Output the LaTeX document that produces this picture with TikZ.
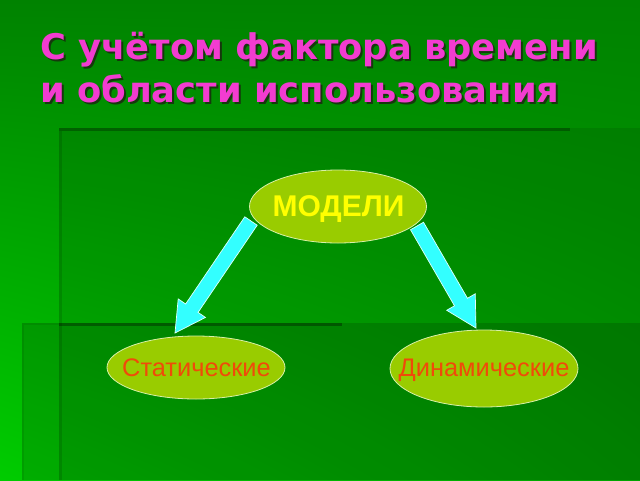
\documentclass[tikz,border=0pt]{standalone}
\usepackage{fontspec}
\setmainfont{Liberation Sans}
\newfontfamily\titlefont{DejaVu Sans}
\usetikzlibrary{calc,shapes.geometric,shadings}
\definecolor{bgtop}{HTML}{008200}
\definecolor{bgbl}{HTML}{00CC00}
\definecolor{bgbr}{HTML}{00A400}
\definecolor{ttlpink}{HTML}{F23CD0}
\definecolor{ttlshadow}{HTML}{1A2A10}
\definecolor{ellfill}{HTML}{99CC00}
\definecolor{ellline}{HTML}{D8F0A8}
\definecolor{arrcyan}{HTML}{33FFFF}
\definecolor{arrline}{HTML}{E0FFFF}
\definecolor{txtred}{HTML}{F04A0A}
\definecolor{modyellow}{HTML}{FFFF00}
\newcommand\blockarrow[2]{%
  \coordinate (#1h) at ($(#2)!30pt!(#1)$);
  \filldraw[arrstyle]
    ($(#1)!7.5pt!90:(#2)$) -- ($(#1h)!7.5pt!90:(#2)$) -- ($(#1h)!16.5pt!90:(#2)$)
    -- (#2) -- ($(#1h)!16.5pt!-90:(#2)$) -- ($(#1h)!7.5pt!-90:(#2)$)
    -- ($(#1)!7.5pt!-90:(#2)$) -- cycle;}
\begin{document}
\begin{tikzpicture}[x=1pt,y=-1pt,
  ttl/.style={font=\titlefont\bfseries\fontsize{35.3}{40}\selectfont, anchor=base west, inner sep=0pt},
  ell/.style={ellipse, fill=ellfill, draw=ellline, line width=0.8pt, inner sep=0pt},
  lowtxt/.style={font=\fontsize{25.4}{28}\selectfont, text=txtred, inner sep=0pt},
  arrstyle/.style={fill=arrcyan, draw=arrline, line width=0.7pt, line join=miter}]
\useasboundingbox (0,0) rectangle (640,480);
% background
\shade[upper left=bgtop, upper right=bgtop, lower left=bgbl, lower right=bgbr] (0,0) rectangle (640,480);
% upper panel
\fill[black,opacity=0.09] (59,128) rectangle (640,480);
\fill[black,opacity=0.28] (59,128) rectangle (570,131);
\fill[black,opacity=0.12] (59,131) rectangle (62,480);
% lower panel
\fill[black,opacity=0.14] (22,323) rectangle (640,480);
\fill[black,opacity=0.08] (22,323) rectangle (59,325);
\fill[black,opacity=0.32] (59,323) rectangle (342,326);
\fill[black,opacity=0.08] (22,325) rectangle (24,480);
% title
\node[ttl, text=ttlshadow, opacity=0.85] (t1s) at (42,61) {С учётом фактора времени};
\node[ttl, text=ttlpink] (t1) at (40,59) {С учётом фактора времени};
\node[ttl, text=ttlshadow, opacity=0.85] (t2s) at (42,104) {и области использования};
\node[ttl, text=ttlpink] (t2) at (40,102) {и области использования};
% arrows
\coordinate (la) at (251,221);
\coordinate (lb) at (175,333);
\coordinate (ra) at (417,226);
\coordinate (rb) at (476,328);
\blockarrow{la}{lb}
\blockarrow{ra}{rb}
% ellipses
\node[ell, minimum width=177pt, minimum height=73pt] (mod) at (338,206.5) {};
\node[text=modyellow, inner sep=0pt, font=\bfseries\fontsize{30}{32}\selectfont] (modl) at (338.5,209) {МОДЕЛИ};
\node[ell, minimum width=178pt, minimum height=63pt] (stat) at (196,367.5) {};
\node[lowtxt] (statl) at (196.5,368) {Статические};
\node[ell, minimum width=188pt, minimum height=77pt] (dyn) at (484,368.5) {};
\node[lowtxt] (dynl) at (484,370) {Динамические};
\end{tikzpicture}
\end{document}
